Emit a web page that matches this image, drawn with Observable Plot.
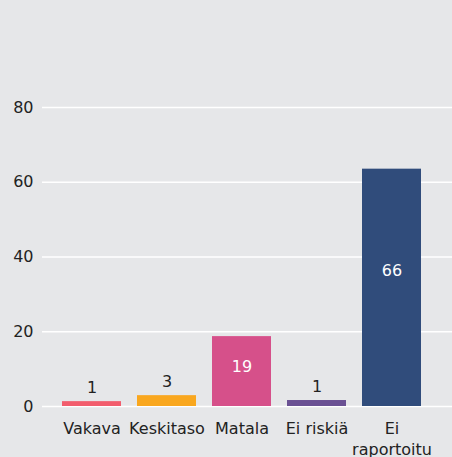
<!DOCTYPE html>
<html>
<head>
<meta charset="utf-8">
<script src="https://cdn.jsdelivr.net/npm/d3@7"></script>
<script src="https://cdn.jsdelivr.net/npm/@observablehq/plot@0.6"></script>
<style>
  html, body { margin: 0; padding: 0; background: #e6e7e9; }
  #chart svg { display: block; }
</style>
</head>
<body>
<div id="chart"></div>
<script>
const categories = ["Vakava", "Keskitaso", "Matala", "Ei riskiä", "Ei\nraportoitu"];
const barValues = [1.3, 2.9, 18.7, 1.6, 63.5];
const labelValues = [1, 3, 19, 1, 66];
const barColors = ["#f25d6d", "#f9a71e", "#d6508a", "#6a5193", "#304c7b"];
const yTicks = [0, 20, 40, 60, 80];

const data = categories.map((c, i) => ({
  category: c, bar: barValues[i], label: labelValues[i], color: barColors[i]
}));
const inside = data.filter(d => d.bar > 10);
const outside = data.filter(d => d.bar <= 10);

const chart = Plot.plot({
  width: 452,
  height: 457,
  marginLeft: 42,
  marginRight: 0,
  marginTop: 107,
  marginBottom: 51,
  style: {background: "#e6e7e9", fontFamily: "DejaVu Sans", fontSize: "16px", color: "#222"},
  x: {domain: categories, paddingInner: 0.214, paddingOuter: 0.32, align: 0.4, label: null},
  y: {domain: [0, 80], label: null},
  marks: [
    Plot.ruleY(yTicks, {stroke: "#ffffff", strokeWidth: 1.5}),
    Plot.barY(data, {x: "category", y: "bar", fill: "color"}),
    Plot.text(outside, {x: "category", y: "bar", text: d => String(d.label), dy: -14, lineAnchor: "middle", fill: "#222", fontSize: 16}),
    Plot.text(inside, {x: "category", y: d => d.bar * 0.57, text: d => String(d.label), lineAnchor: "middle", fill: "#ffffff", fontSize: 16}),
    Plot.axisY({ticks: yTicks, tickSize: 0, tickPadding: 9, label: null, fontSize: 16}),
    Plot.axisX({tickSize: 0, tickPadding: 12, label: null, fontSize: 16, lineHeight: 1.35})
  ]
});
document.getElementById("chart").appendChild(chart);
</script>
</body>
</html>
